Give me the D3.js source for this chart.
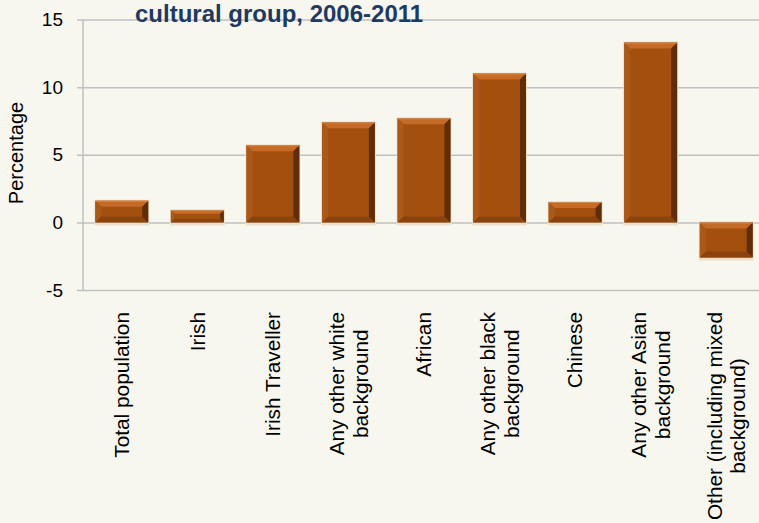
<!DOCTYPE html>
<html>
<head>
<meta charset="utf-8">
<script src="https://cdn.jsdelivr.net/npm/d3@7"></script>
<style>
  body { margin: 0; background: #f7f7f0; }
  svg { display: block; font-family: "Liberation Sans", Arial, sans-serif; }
</style>
</head>
<body>
<div id="chart"></div>
<script>
const width = 759,
      height = 523;

// chart data
const categories = ["Total population", "Irish", "Irish Traveller", "Any other white background",
                    "African", "Any other black background", "Chinese", "Any other Asian background",
                    "Other (including mixed background)"];
// label lines as shown under the axis
const labelLines = [["Total population"], ["Irish"], ["Irish Traveller"], ["Any other white", "background"],
                    ["African"], ["Any other black", "background"], ["Chinese"], ["Any other Asian", "background"],
                    ["Other (including mixed", "background)"]];
const values = [1.6, 0.9, 5.7, 7.4, 7.7, 11.0, 1.5, 13.3, -2.6];
const yTicks = [-5, 0, 5, 10, 15];
const titleText = "cultural group, 2006-2011";
const yTitle = "Percentage";

const plot = { left: 84, right: 764, top: 19.5, bottom: 290 };

const x = d3.scaleBand()
    .domain(categories)
    .range([plot.left, plot.right])
    .paddingInner(0.3)
    .paddingOuter(0.15);

const y = d3.scaleLinear()
    .domain([-5, 15])
    .range([plot.bottom, plot.top]);

const svg = d3.select("#chart")
  .append("svg")
    .attr("width", width)
    .attr("height", height);

svg.append("rect")
    .attr("width", width)
    .attr("height", height)
    .attr("fill", "#f7f7f0");

// gridlines + ticks
const yAxis = svg.append("g")
    .attr("transform", `translate(${plot.left - 1},0)`)
    .call(d3.axisLeft(y).tickValues(yTicks).tickFormat(d => String(d)).tickSize(6).tickPadding(14));

yAxis.select(".domain").remove();
yAxis.selectAll(".tick line")
    .attr("stroke", "#c0c0c0")
    .attr("stroke-width", 1.5)
    .attr("x1", -6)
    .attr("x2", width);
yAxis.selectAll(".tick text")
    .attr("fill", "#000")
    .attr("font-size", "19px")
    .attr("font-family", "Liberation Sans, Arial, sans-serif");

svg.append("line")
    .attr("x1", plot.left - 1).attr("x2", plot.left - 1)
    .attr("y1", y(15)).attr("y2", y(-5))
    .attr("stroke", "#c0c0c0")
    .attr("stroke-width", 1.5);

// bevelled bars
const bars = svg.append("g")
  .selectAll("g")
  .data(categories.map((c, i) => ({ cat: c, value: values[i] })))
  .enter()
  .append("g")
    .each(function(d) {
      const g = d3.select(this);
      const x0 = x(d.cat), w = x.bandwidth(), x1 = x0 + w;
      const yT = y(Math.max(d.value, 0)), yB = y(Math.min(d.value, 0));
      const b = Math.min(6, (yB - yT) * 0.3);

      // soft halo
      g.append("rect")
          .attr("x", x0 - 1).attr("y", yT - 1)
          .attr("width", w + 2).attr("height", yB - yT + 4)
          .attr("fill", "#ebe0cc");

      g.append("rect")
          .attr("x", x0).attr("y", yT)
          .attr("width", w).attr("height", yB - yT)
          .attr("fill", "#a3500f");

      const poly = (pts, fill) => g.append("polygon")
          .attr("points", pts.map(p => p.join(",")).join(" "))
          .attr("fill", fill);

      poly([[x0, yT], [x1, yT], [x1 - b, yT + b], [x0 + b, yT + b]], "#c56b27");
      poly([[x0, yT], [x0 + b, yT + b], [x0 + b, yB - b], [x0, yB]], "#ab5918");
      poly([[x0, yB], [x1, yB], [x1 - b, yB - b], [x0 + b, yB - b]], "#8b430d");
      poly([[x1, yT], [x1, yB], [x1 - b, yB - b], [x1 - b, yT + b]], "#5f2e08");

      g.append("line")
          .attr("x1", x0).attr("x2", x1)
          .attr("y1", yT + 0.5).attr("y2", yT + 0.5)
          .attr("stroke", "#d9894a")
          .attr("stroke-width", 1);
    });

// category labels, rotated, lines centred on each other, block top-aligned
const labelTop = 312,
      lineH = 24;

const labels = svg.append("g")
  .selectAll("text")
  .data(categories.map((c, i) => ({ cat: c, lines: labelLines[i] })))
  .enter()
  .append("text")
    .attr("font-size", "20.8px")
    .attr("fill", "#000")
    .attr("text-anchor", "middle");

labels.each(function(d) {
  const t = d3.select(this);
  d.lines.forEach((line, j) => {
    t.append("tspan")
        .attr("x", 0)
        .attr("y", (j - (d.lines.length - 1) / 2) * lineH)
        .attr("dy", "0.35em")
        .text(line);
  });
  let maxLen = 0;
  t.selectAll("tspan").each(function() {
    maxLen = Math.max(maxLen, this.getComputedTextLength());
  });
  const cx = x(d.cat) + x.bandwidth() / 2;
  t.attr("transform", `translate(${cx},${labelTop + maxLen / 2}) rotate(-90)`);
});

// y axis title
svg.append("text")
    .attr("transform", "translate(16,153) rotate(-90)")
    .attr("text-anchor", "middle")
    .attr("dy", "0.35em")
    .attr("font-size", "20px")
    .attr("fill", "#000")
    .text(yTitle);

// chart title (first line falls outside the frame)
svg.append("text")
    .attr("x", 135)
    .attr("y", 22)
    .attr("font-size", "24px")
    .attr("font-weight", "bold")
    .attr("fill", "#1f3a60")
    .text(titleText);
</script>
</body>
</html>
